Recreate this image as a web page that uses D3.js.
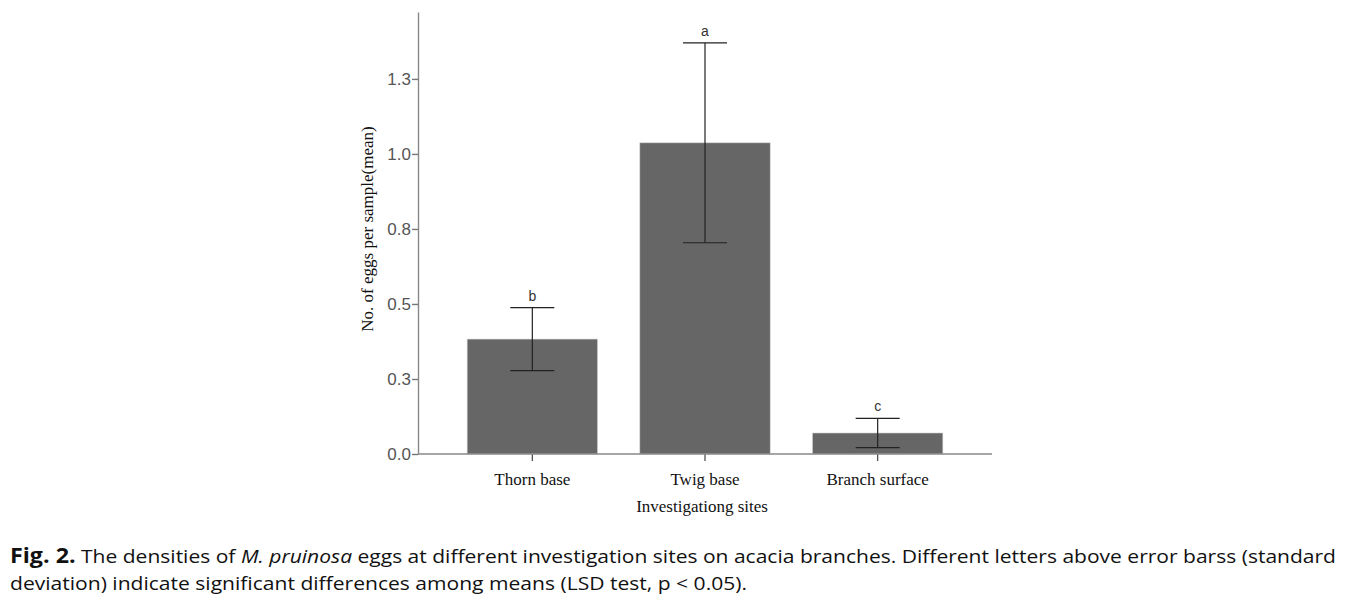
<!DOCTYPE html>
<html><head><meta charset="utf-8">
<script src="https://cdn.jsdelivr.net/npm/d3@7"></script>
<style>body{margin:0;background:#fff}svg{display:block}</style>
</head><body>
<svg id="chart" width="1358" height="600"></svg>
<script>
const categories = ["Thorn base", "Twig base", "Branch surface"];
const means = [0.383, 1.037, 0.070];
const sds = [0.105, 0.333, 0.049];
const letters = ["b", "a", "c"];
const tickValues = [0, 0.25, 0.5, 0.75, 1.0, 1.25];
const tickLabels = ["0.0", "0.3", "0.5", "0.8", "1.0", "1.3"];

const svg = d3.select("#chart");
const x = d3.scaleBand().domain(categories).range([446, 964]).paddingInner(0.245).paddingOuter(0.1225);
const y = d3.scaleLinear().domain([0, 1.473]).range([454, 12]);

// bars
svg.selectAll("rect.bar").data(categories).join("rect")
  .attr("x", d => x(d)).attr("width", x.bandwidth())
  .attr("y", (d,i) => y(means[i])).attr("height", (d,i) => y(0) - y(means[i]))
  .attr("fill", "#666666").attr("stroke", "#d0d0d0").attr("stroke-width", 0.6);

// y axis
const yAxis = d3.axisLeft(y).tickValues(tickValues).tickFormat((d,i) => tickLabels[i]).tickSize(6).tickSizeOuter(0);
const gy = svg.append("g").attr("transform", "translate(418,0)").call(yAxis);
gy.select(".domain").attr("stroke", "#888").attr("stroke-width", 1.4);
gy.selectAll(".tick line").attr("stroke", "#777").attr("stroke-width", 1.4);
gy.selectAll(".tick text").attr("font-family", "Liberation Sans, Arial, sans-serif").attr("font-size", 17).attr("fill", "#555").attr("x", -7);

// x axis
const xAxis = d3.axisBottom(x).tickSize(7).tickSizeOuter(0).tickPadding(12);
const gx = svg.append("g").attr("transform", "translate(0,454)").call(xAxis);
gx.select(".domain").remove();
gx.append("line").attr("x1", 418).attr("x2", 992).attr("y1", 0).attr("y2", 0).attr("stroke", "#888").attr("stroke-width", 1.4);
gx.selectAll(".tick line").attr("stroke", "#444").attr("stroke-width", 1.2);
gx.selectAll(".tick text").attr("font-family", "Liberation Serif, Times New Roman, serif").attr("font-size", 17).attr("fill", "#111");

// error bars
const cap = 22;
const eg = svg.append("g").attr("stroke", "#222").attr("stroke-width", 1.2);
categories.forEach((c, i) => {
  const cx = x(c) + x.bandwidth() / 2;
  const hi = y(means[i] + sds[i]), lo = y(means[i] - sds[i]);
  eg.append("line").attr("x1", cx).attr("x2", cx).attr("y1", hi).attr("y2", lo);
  eg.append("line").attr("x1", cx - cap).attr("x2", cx + cap).attr("y1", hi).attr("y2", hi);
  eg.append("line").attr("x1", cx - cap).attr("x2", cx + cap).attr("y1", lo).attr("y2", lo);
  svg.append("text").attr("x", cx).attr("y", hi - 7).attr("text-anchor", "middle")
    .attr("font-family", "Liberation Sans, Arial, sans-serif").attr("font-size", 14).attr("fill", "#333").text(letters[i]);
});

// axis titles
svg.append("text").attr("transform", "translate(373,229) rotate(-90)").attr("text-anchor", "middle")
  .attr("font-family", "Liberation Serif, Times New Roman, serif").attr("font-size", 17).attr("fill", "#111")
  .text("No. of eggs per sample(mean)");
svg.append("text").attr("x", 702).attr("y", 512).attr("text-anchor", "middle")
  .attr("font-family", "Liberation Serif, Times New Roman, serif").attr("font-size", 17).attr("fill", "#111")
  .text("Investigationg sites");

// caption
const cf = "Open Sans, Noto Sans, sans-serif";
const l1 = svg.append("text").attr("x", 10).attr("y", 563).attr("font-family", cf).attr("font-size", 19).attr("fill", "#111")
  .attr("textLength", 1326).attr("lengthAdjust", "spacingAndGlyphs");
l1.append("tspan").attr("font-weight", "bold").attr("font-size", 21).text("Fig. 2.");
l1.append("tspan").text(" The densities of ");
l1.append("tspan").attr("font-style", "italic").text("M. pruinosa");
l1.append("tspan").text("  eggs at different investigation sites on acacia branches. Different letters above error barss (standard");
svg.append("text").attr("x", 10).attr("y", 590).attr("font-family", cf).attr("font-size", 19).attr("fill", "#111")
  .attr("textLength", 737).attr("lengthAdjust", "spacingAndGlyphs")
  .text("deviation) indicate significant differences among means (LSD test, p < 0.05).");
</script>
</body></html>
